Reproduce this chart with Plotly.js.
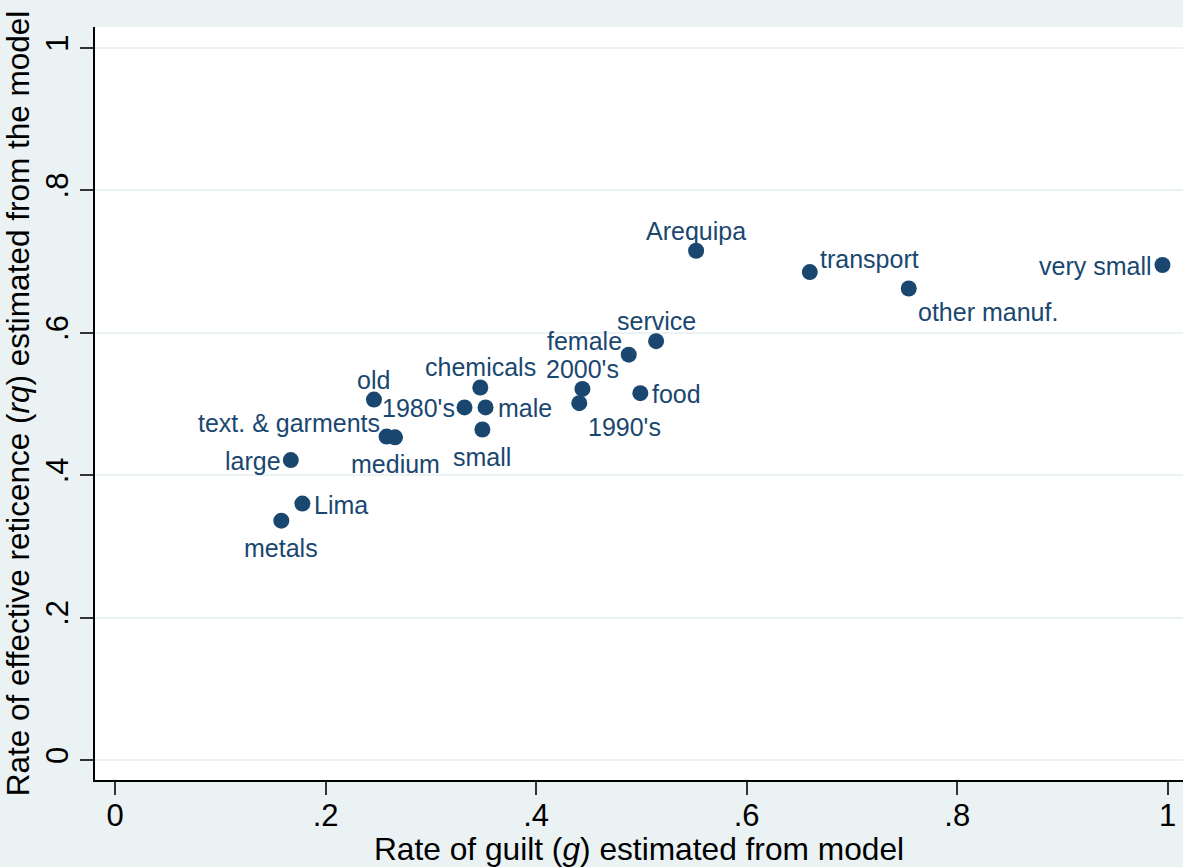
<!DOCTYPE html>
<html>
<head>
<meta charset="utf-8">
<script src="https://cdn.plot.ly/plotly-3.0.1.min.js"></script>
<style>
  html, body { margin: 0; padding: 0; background: #eaf2f3; }
  #chart { width: 1183px; height: 867px; }
</style>
</head>
<body>
<div id="chart"></div>
<script>
// ---- Data ----
const groups = [
  "Arequipa", "transport", "other manuf.", "very small", "service", "female",
  "2000's", "1990's", "food", "chemicals", "1980's", "male", "small", "old",
  "text. & garments", "medium", "large", "Lima", "metals"
];
// Rate of guilt (g) estimated from model
const guiltRate = [
  0.552, 0.660, 0.754, 0.995, 0.514, 0.488,
  0.444, 0.441, 0.499, 0.347, 0.332, 0.352, 0.349, 0.246,
  0.258, 0.266, 0.167, 0.178, 0.158
];
// Rate of effective reticence (rq) estimated from the model
const reticenceRate = [
  0.715, 0.685, 0.662, 0.695, 0.588, 0.569,
  0.521, 0.501, 0.515, 0.523, 0.495, 0.495, 0.464, 0.506,
  0.454, 0.453, 0.421, 0.360, 0.336
];
// Label position for each point, as a clock position (Stata mlabposition)
const labelClock = [
  12, 2, 4, 9, 12, 10,
  12, 4, 3, 12, 9, 3, 6, 12,
  10, 6, 9, 3, 6
];
const xTickVals = [0, 0.2, 0.4, 0.6, 0.8, 1];
const xTickText = ["0", ".2", ".4", ".6", ".8", "1"];
const yTickVals = [0, 0.2, 0.4, 0.6, 0.8, 1];
const yTickText = ["0", ".2", ".4", ".6", ".8", "1"];

const navy = "#1a476f";
const font = "'Liberation Sans', Arial, Helvetica, sans-serif";

// clock position -> anchor and pixel offset of the label from its marker
const clockStyle = {
  12: { xanchor: "center", xshift: 0,   yshift: 20 },
  2:  { xanchor: "left",   xshift: 10,  yshift: 13 },
  3:  { xanchor: "left",   xshift: 12,  yshift: -1 },
  4:  { xanchor: "left",   xshift: 9,   yshift: -24 },
  6:  { xanchor: "center", xshift: 0,   yshift: -27 },
  9:  { xanchor: "right",  xshift: -10, yshift: -1 },
  10: { xanchor: "right",  xshift: -7,  yshift: 14 }
};

const trace = {
  type: "scatter",
  mode: "markers",
  x: guiltRate,
  y: reticenceRate,
  text: groups,
  marker: { color: navy, size: 16, line: { width: 0 } },
  cliponaxis: false,
  hoverinfo: "text+x+y",
  showlegend: false
};

const annotations = groups.map((name, i) => {
  const s = clockStyle[labelClock[i]];
  return {
    x: guiltRate[i],
    y: reticenceRate[i],
    xref: "x",
    yref: "y",
    text: name,
    showarrow: false,
    xanchor: s.xanchor,
    yanchor: "middle",
    xshift: s.xshift,
    yshift: s.yshift,
    borderpad: 0,
    borderwidth: 0,
    font: { family: font, size: 25, color: navy }
  };
});

const layout = {
  width: 1183,
  height: 867,
  margin: { l: 95, r: 0, t: 27, b: 87, pad: 0 },
  paper_bgcolor: "#eaf2f3",
  plot_bgcolor: "#ffffff",
  font: { family: font, color: "#000000" },
  annotations: annotations,
  xaxis: {
    range: [-0.019, 1.0145],
    tickmode: "array",
    tickvals: xTickVals,
    ticktext: xTickText,
    ticks: "outside",
    ticklen: 13,
    tickwidth: 2,
    tickcolor: "#333333",
    ticklabelstandoff: -6,
    tickfont: { family: font, size: 31, color: "#000000" },
    showgrid: false,
    zeroline: false,
    showline: true,
    linecolor: "#000000",
    linewidth: 2,
    title: {
      text: "Rate of guilt (<i>g</i>) estimated from model",
      font: { family: font, size: 31.7, color: "#000000" },
      standoff: 7
    }
  },
  yaxis: {
    range: [-0.0281, 1.0291],
    tickmode: "array",
    tickvals: yTickVals,
    ticktext: yTickText,
    tickangle: -90,
    ticks: "outside",
    ticklen: 13,
    tickwidth: 2,
    tickcolor: "#333333",
    tickfont: { family: font, size: 31, color: "#000000" },
    showgrid: true,
    gridcolor: "#eaf2f3",
    gridwidth: 2,
    zeroline: false,
    showline: true,
    linecolor: "#000000",
    linewidth: 2,
    title: {
      text: "Rate of effective reticence (<i>rq</i>) estimated from the model",
      font: { family: font, size: 31.5, color: "#000000" },
      standoff: 2
    }
  }
};

Plotly.newPlot("chart", [trace], layout, { displayModeBar: false, staticPlot: true });
</script>
</body>
</html>
